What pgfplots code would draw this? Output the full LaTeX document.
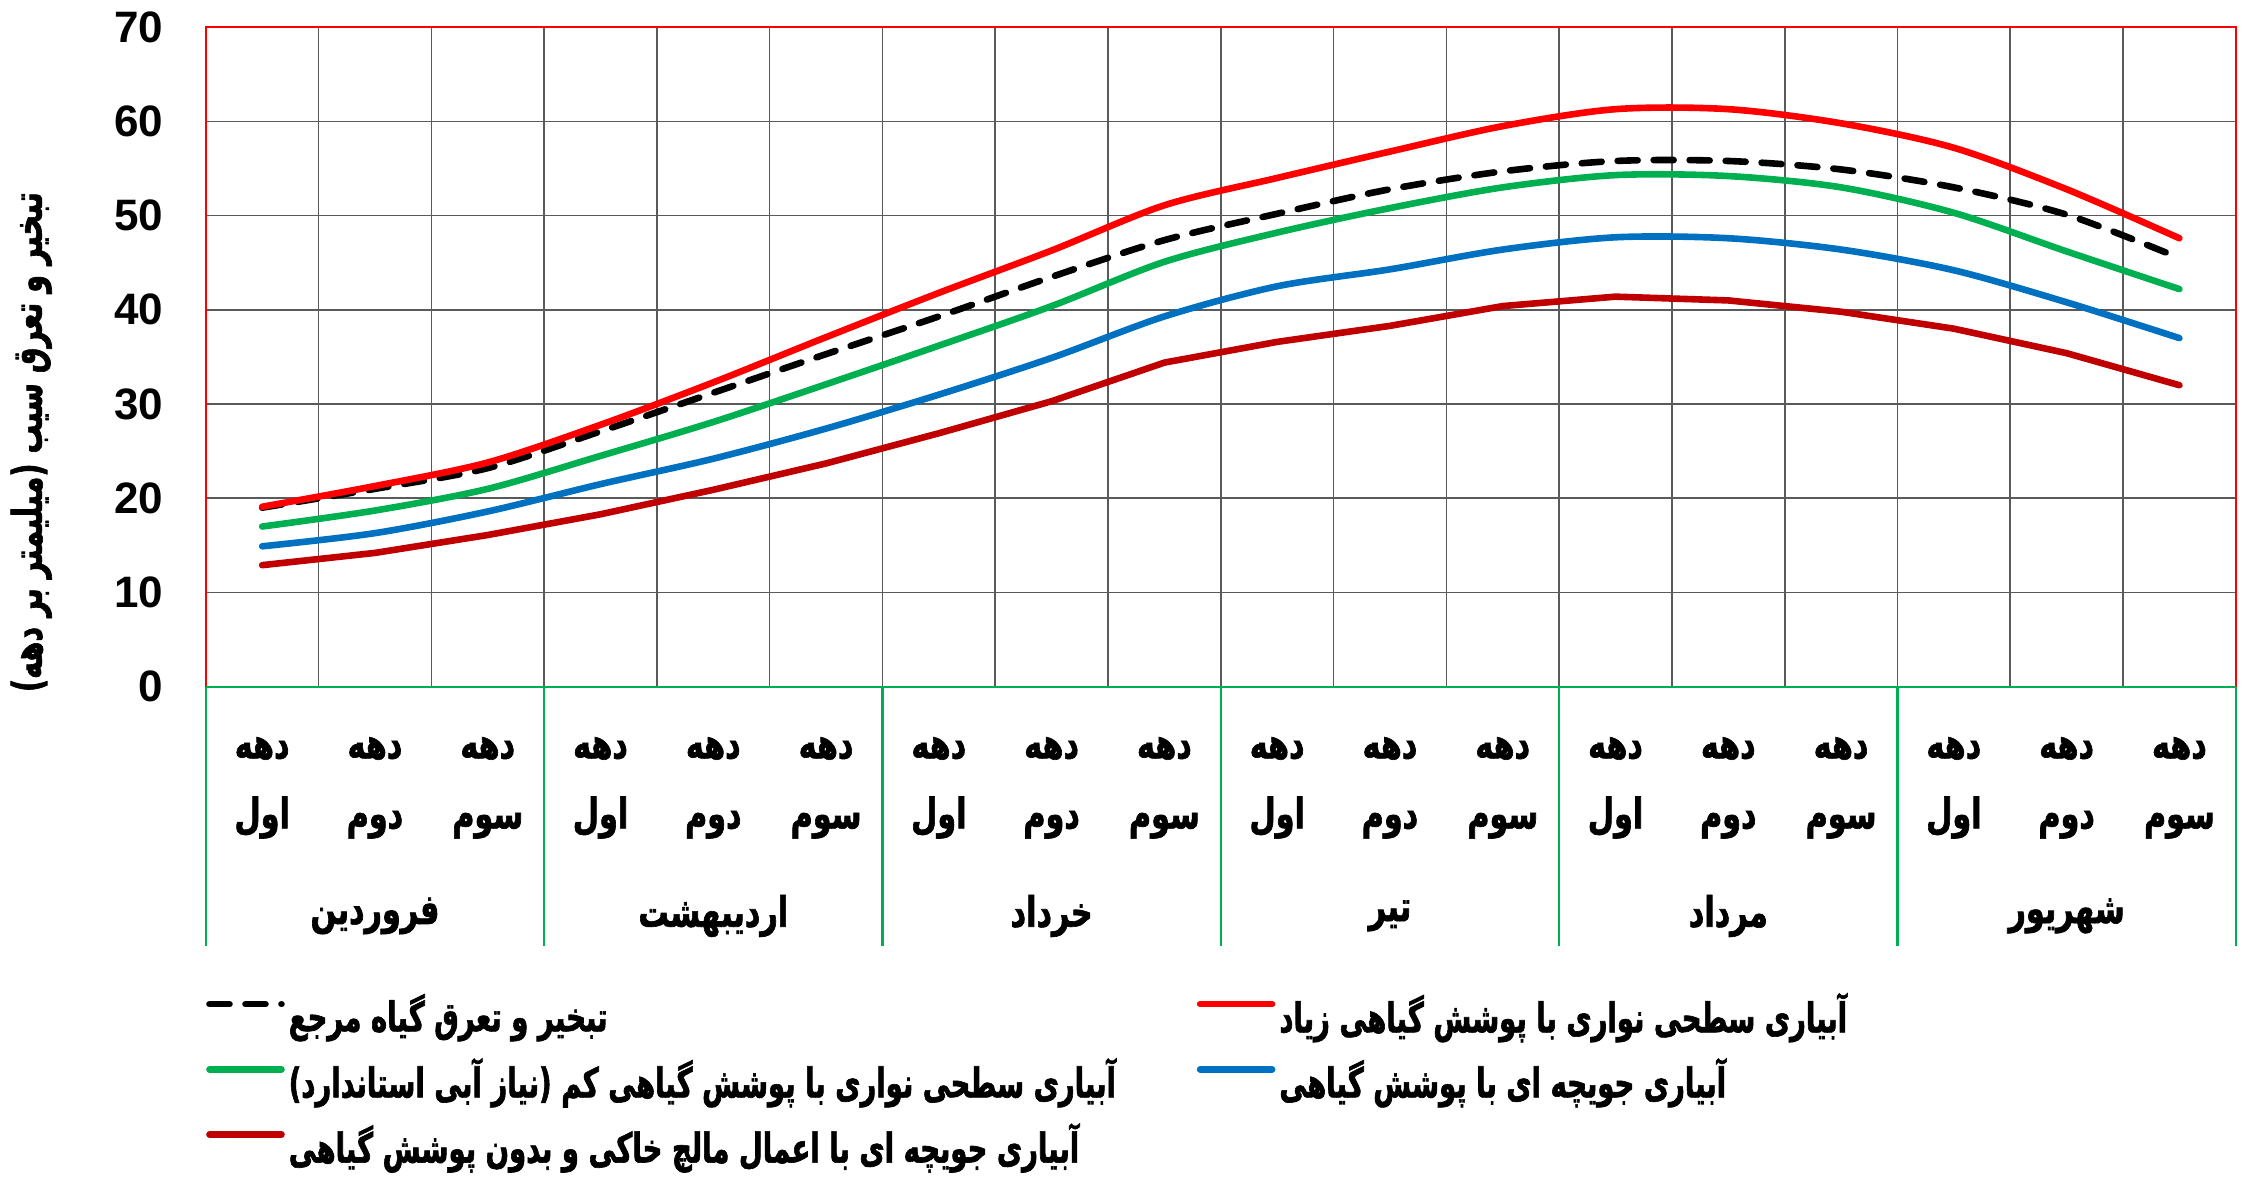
\documentclass[border=0pt]{standalone}
\usepackage{pgfplots}
\usepackage{pgfplotstable}
\pgfplotsset{compat=1.18}
\usepackage{fontspec}
\setmainfont{Liberation Sans}
\newfontfamily\arabicfont[Script=Arabic, FakeStretch=0.72, BoldFeatures={FakeBold=1.5}]{DejaVu Sans}
\newfontfamily\arabiclegend[Script=Arabic, FakeStretch=0.67, BoldFeatures={FakeBold=1.5}]{DejaVu Sans}
\newfontfamily\arabicylab[Script=Arabic, FakeStretch=0.70, BoldFeatures={FakeBold=1.5}]{DejaVu Sans}
\TeXXeTstate=1
\newcommand\AR[1]{{\arabicfont\bfseries\beginR #1\endR}}
\newcommand\ARL[1]{{\arabiclegend\bfseries\beginR #1\endR}}
\definecolor{cred}{HTML}{FF0000}
\definecolor{cgreen}{HTML}{00B050}
\definecolor{cblue}{HTML}{0070C0}
\definecolor{cdark}{HTML}{C00000}
\definecolor{cgrid}{HTML}{5A5A5A}

\pgfplotstableread{
x red blk grn blu drk
0 19.1 19.0 17.0 14.9 12.9
1 21.3 21.0 18.7 16.3 14.2
2 23.8 23.2 21.0 18.6 16.1
3 27.8 27.1 24.5 21.5 18.3
4 32.3 31.2 28.1 24.2 20.9
5 37.1 35.3 32.1 27.4 23.7
6 41.8 39.3 36.2 31.0 26.9
7 46.3 43.5 40.4 34.9 30.3
8 51.1 47.4 45.1 39.3 34.4
9 54.0 50.2 48.2 42.5 36.6
10 56.8 52.8 50.8 44.3 38.3
11 59.5 54.7 53.0 46.4 40.4
12 61.3 55.8 54.3 47.7 41.4
13 61.3 55.8 54.2 47.6 41.0
14 59.8 54.9 53.0 46.4 39.8
15 57.2 53.0 50.3 44.2 38.0
16 52.8 50.1 46.2 40.8 35.4
17 47.6 45.5 42.2 37.0 32.0
}\datatable

\begin{document}
\begin{tikzpicture}
\useasboundingbox (-102.9pt,-245.15pt) rectangle (1021.1pt,343.35pt);
\begin{axis}[
  at={(0pt,0pt)}, anchor=south west,
  scale only axis, width=1015pt, height=329.75pt,
  xmin=-0.5, xmax=17.5, ymin=0, ymax=70,
  clip=false,
  ytick={0,10,...,70},
  xtick={0,...,17},
  xticklabels={
    {\AR{دهه}\\\AR{اول}},{\AR{دهه}\\\AR{دوم}},{\AR{دهه}\\\AR{سوم}},
    {\AR{دهه}\\\AR{اول}},{\AR{دهه}\\\AR{دوم}},{\AR{دهه}\\\AR{سوم}},
    {\AR{دهه}\\\AR{اول}},{\AR{دهه}\\\AR{دوم}},{\AR{دهه}\\\AR{سوم}},
    {\AR{دهه}\\\AR{اول}},{\AR{دهه}\\\AR{دوم}},{\AR{دهه}\\\AR{سوم}},
    {\AR{دهه}\\\AR{اول}},{\AR{دهه}\\\AR{دوم}},{\AR{دهه}\\\AR{سوم}},
    {\AR{دهه}\\\AR{اول}},{\AR{دهه}\\\AR{دوم}},{\AR{دهه}\\\AR{سوم}}},
  minor xtick={-0.5,0.5,...,17.5},
  xmajorgrids=false, xminorgrids=true, ymajorgrids=true,
  grid style={draw=cgrid, line width=0.8pt},
  minor grid style={draw=cgrid, line width=0.8pt},
  axis line style={draw=none},
  major tick length=0pt, minor tick length=0pt,
  tick style={draw=none},
  /pgf/number format/assume math mode=true,
  yticklabel style={font=\fontsize{22}{26}\selectfont\bfseries, anchor=east, inner sep=0pt, xshift=-21pt},
  xticklabel style={font=\fontsize{21}{35}\selectfont, align=center, anchor=north, inner sep=0pt, yshift=-25pt},
  ylabel={{\arabicylab\bfseries\beginR تبخیر و تعرق سیب (میلیمتر بر دهه)\endR}},
  ylabel style={font=\fontsize{20.5}{24}\selectfont, at={(axis description cs:-0.086,0.371)}, anchor=center},
  legend columns=2,
  legend cell align=left,
  legend style={at={(axis description cs:0,0)}, anchor=north west, yshift=-151pt, draw=none, fill=none,
    font=\fontsize{20.5}{24}\selectfont, inner sep=0pt, row sep=7.5pt,
    nodes={inner sep=2pt}},
  legend image code/.code={\draw[#1] (0pt,5pt) -- (36pt,5pt);},
]
\addplot[black, line width=3.3pt, dash pattern=on 10pt off 8pt, line cap=round, smooth] table[x=x,y=blk]{\datatable};
\addlegendentry{\makebox[452pt][l]{\ARL{تبخیر و تعرق گیاه مرجع}}}
\addplot[cred, line width=3.3pt, line cap=round, smooth] table[x=x,y=red]{\datatable};
\addlegendentry{\ARL{آبیاری سطحی نواری با پوشش گیاهی زیاد}}
\addplot[cgreen, line width=3.3pt, line cap=round, smooth] table[x=x,y=grn]{\datatable};
\addlegendentry{\makebox[452pt][l]{\ARL{آبیاری سطحی نواری با پوشش گیاهی کم (نیاز آبی استاندارد)}}}
\addplot[cblue, line width=3.3pt, line cap=round, smooth] table[x=x,y=blu]{\datatable};
\addlegendentry{\ARL{آبیاری جویچه ای با پوشش گیاهی}}
\addplot[cdark, line width=3.3pt, line cap=round] table[x=x,y=drk]{\datatable};
\addlegendentry{\makebox[452pt][l]{\ARL{آبیاری جویچه ای  با اعمال مالچ خاکی و بدون پوشش گیاهی}}}

\draw[cred, line width=1.2pt] (rel axis cs:0,0) -- (rel axis cs:0,1) -- (rel axis cs:1,1) -- (rel axis cs:1,0);
\draw[cgreen, line width=1.2pt] (rel axis cs:0,0) -- (rel axis cs:1,0);
\pgfplotsinvokeforeach{-0.5,2.5,5.5,8.5,11.5,14.5,17.5}{
  \draw[cgreen, line width=1.2pt] (axis cs:#1,0) -- ++(0pt,-129.8pt);
}
\node[font=\fontsize{21}{24}\selectfont] at (axis cs:1,0) [yshift=-114.6pt] {\AR{فروردین}};
\node[font=\fontsize{21}{24}\selectfont] at (axis cs:4,0) [yshift=-114.6pt] {\AR{اردیبهشت}};
\node[font=\fontsize{21}{24}\selectfont] at (axis cs:7,0) [yshift=-114.6pt] {\AR{خرداد}};
\node[font=\fontsize{21}{24}\selectfont] at (axis cs:10,0) [yshift=-114.6pt] {\AR{تیر}};
\node[font=\fontsize{21}{24}\selectfont] at (axis cs:13,0) [yshift=-114.6pt] {\AR{مرداد}};
\node[font=\fontsize{21}{24}\selectfont] at (axis cs:16,0) [yshift=-114.6pt] {\AR{شهریور}};
\end{axis}
\end{tikzpicture}
\end{document}
